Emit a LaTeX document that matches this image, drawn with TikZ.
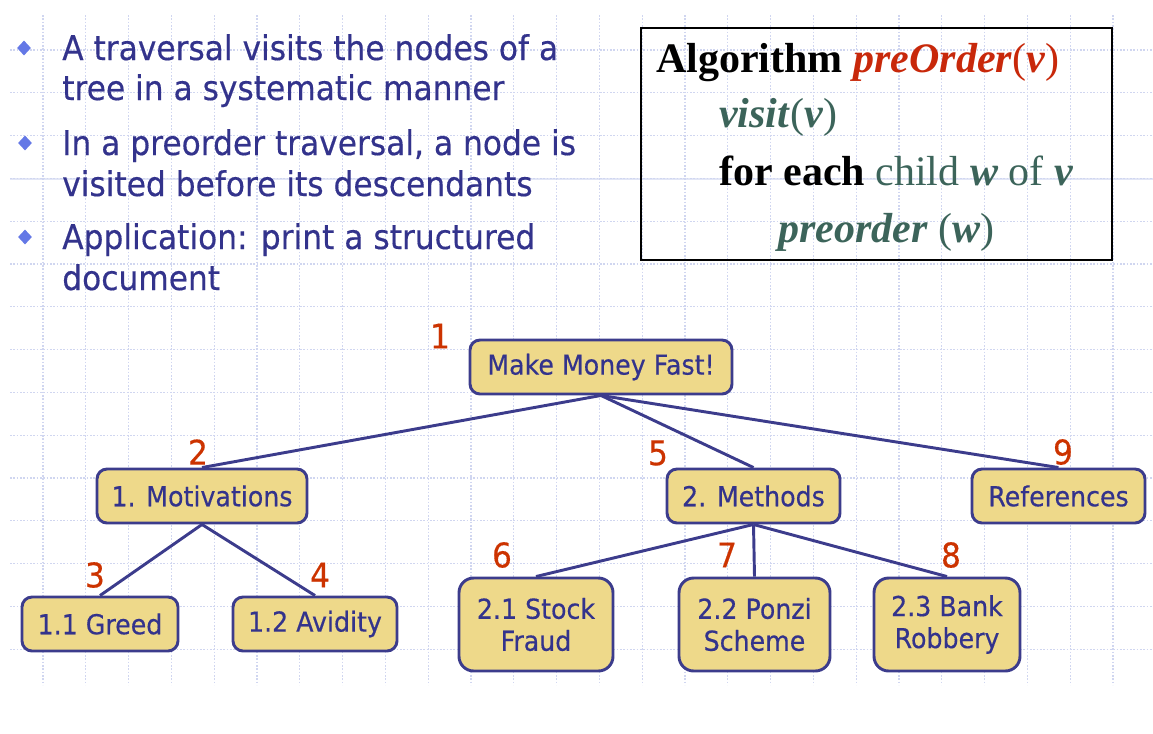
\documentclass[tikz,border=0pt]{standalone}
\usepackage{fontspec}
\setmainfont{Liberation Serif}
\newfontfamily\tah{DejaVu Sans}[FakeStretch=0.92,FakeBold=0.4]
\usetikzlibrary{shapes.geometric}
\definecolor{txtblue}{RGB}{51,51,140}
\definecolor{bulc}{RGB}{100,120,230}
\definecolor{boxfill}{RGB}{238,217,138}
\definecolor{boxline}{RGB}{60,60,140}
\definecolor{numred}{RGB}{204,51,0}
\definecolor{algteal}{RGB}{60,100,90}
\definecolor{algred}{RGB}{200,40,10}
\definecolor{gridc}{RGB}{208,214,240}
\definecolor{gridsolid}{RGB}{226,230,246}
\begin{document}
\begin{tikzpicture}[x=0.75pt,y=-0.75pt,
  gridline/.style={draw=gridc, line width=0.9pt, dash pattern=on 1.2pt off 1.3pt},
  tnode/.style={draw=boxline, line width=2.2pt, fill=boxfill, rounded corners=7.5pt,
    font=\tah\fontsize{20.6pt}{24pt}\selectfont, text=txtblue, align=center,
    inner sep=0pt, minimum height=40.5pt},
  tall/.style={minimum height=69.75pt, rounded corners=11pt},
  edge/.style={draw=boxline, line width=2.2pt},
  num/.style={font=\tah\fontsize{25.5pt}{28pt}\selectfont, text=numred, inner sep=0pt},
  btext/.style={font=\tah\fontsize{25.5pt}{28pt}\selectfont, text=txtblue, inner sep=0pt, anchor=base west},
  bul/.style={shape=diamond, fill=bulc, inner sep=0pt, minimum width=10.5pt, minimum height=11.25pt},
  alg/.style={font=\fontsize{31.5pt}{34pt}\selectfont, inner sep=0pt, anchor=base west}
]
\useasboundingbox (0,0) rectangle (1153,733);
% background grid
\draw[draw=gridsolid, line width=1pt] (10,179) -- (1153,179);
\foreach \k in {0,...,14} \draw[gridline] (10,50+42.8*\k) -- (1153,50+42.8*\k);
\foreach \k in {0,...,25} \draw[gridline] (43+42.8*\k,15) -- (43+42.8*\k,685);

% bullets
\node[bul] (b1) at (24,48) {};
\node[bul] (b2) at (25,143) {};
\node[bul] (b3) at (25,237) {};
\node[btext] (t1a) at (62,60) {A traversal visits the nodes of a};
\node[btext] (t1b) at (62,100) {tree in a systematic manner};
\node[btext] (t2a) at (62,155) {In a preorder traversal, a node is};
\node[btext] (t2b) at (62,196) {visited before its descendants};
\node[btext] (t3a) at (62,249) {Application: print a structured};
\node[btext] (t3b) at (62,290) {document};

% algorithm box
\node[draw=black, line width=1.6pt, minimum width=353.25pt, minimum height=174pt, inner sep=0pt] (algbox) at (876.5,144) {};
\node[alg] (al1) at (656,72) {\textbf{Algorithm} \textcolor{algred}{\textbf{\textit{preOrder}}(\textbf{\textit{v}})}};
\node[alg, text=algteal] (al2) at (719,127) {\textbf{\textit{visit}}(\textbf{\textit{v}})};
\node[alg, text=algteal] (al3) at (719,185) {\textcolor{black}{\textbf{for each}} child \textbf{\textit{w}} of \textbf{\textit{v}}};
\node[alg, text=algteal] (al4) at (778,242) {\textbf{\textit{preorder}} (\textbf{\textit{w}})};

% tree nodes
\node[tnode, minimum width=196.5pt] (root) at (601,367) {Make Money Fast!};
\node[tnode, minimum width=157.5pt] (mot) at (202,496) {1. Motivations};
\node[tnode, minimum width=129.75pt] (meth) at (753.5,496) {2. Methods};
\node[tnode, minimum width=129.75pt] (refs) at (1058.5,496) {References};
\node[tnode, minimum width=117pt] (greed) at (100,624) {1.1 Greed};
\node[tnode, minimum width=123pt] (avid) at (315,624) {1.2 Avidity};
\node[tnode, tall, minimum width=115.5pt] (stock) at (536,624.5) {2.1 Stock\\Fraud};
\node[tnode, tall, minimum width=113.25pt] (ponzi) at (754.5,624.5) {2.2 Ponzi\\Scheme};
\node[tnode, tall, minimum width=109.5pt] (bank) at (947,624.5) {2.3 Bank\\Robbery};

% edges
\draw[edge] (root.south) -- (mot.north);
\draw[edge] (root.south) -- (meth.north);
\draw[edge] (root.south) -- (refs.north);
\draw[edge] (mot.south) -- (greed.north);
\draw[edge] (mot.south) -- (avid.north);
\draw[edge] (meth.south) -- (stock.north);
\draw[edge] (meth.south) -- (ponzi.north);
\draw[edge] (meth.south) -- (bank.north);

% numbers
\node[num] (n1) at (440,336) {1};
\node[num] (n2) at (198,452) {2};
\node[num] (n3) at (95,575) {3};
\node[num] (n4) at (320,575) {4};
\node[num] (n5) at (658,453) {5};
\node[num] (n6) at (502,555) {6};
\node[num] (n7) at (727,555) {7};
\node[num] (n8) at (951,555) {8};
\node[num] (n9) at (1063,452) {9};
\end{tikzpicture}
\end{document}
